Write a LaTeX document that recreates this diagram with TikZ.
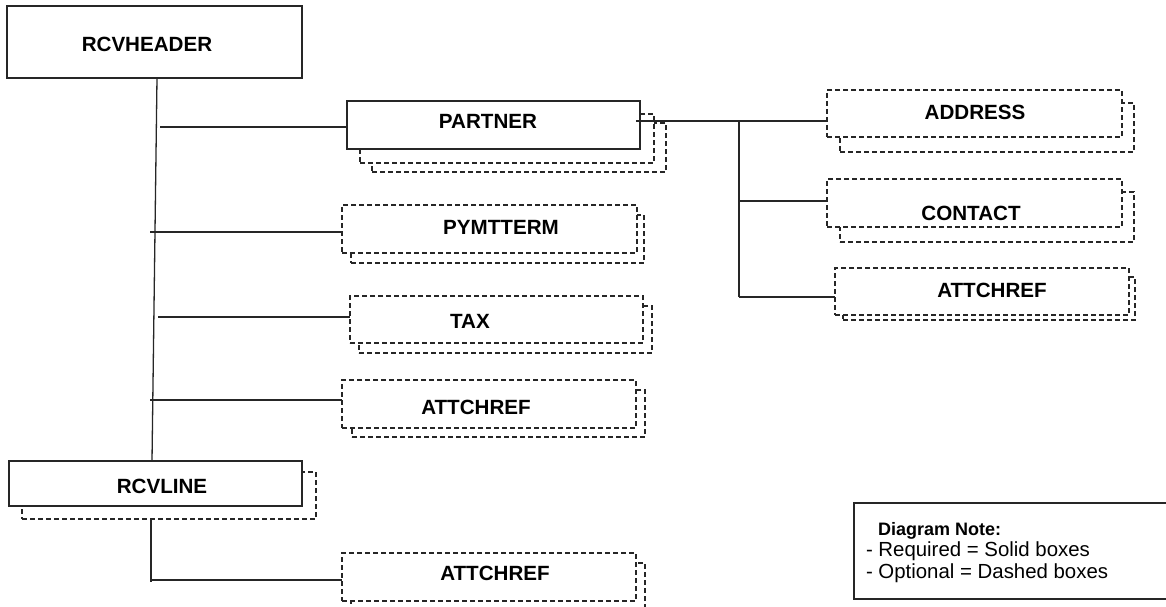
\documentclass[tikz,border=0pt]{standalone}
\usepackage{fontspec}
\setmainfont{Liberation Sans}
\usetikzlibrary{calc}
\begin{document}
\begin{tikzpicture}[x=1pt,y=-1pt,
  every node/.style={inner sep=0pt,outer sep=0pt},
  reqbox/.style={draw=black!85,line width=1.3pt,fill=white,anchor=north west},
  optbox/.style={draw=black!85,line width=1.2pt,dash pattern=on 5pt off 3pt,fill=white,anchor=north west},
  lbl/.style={font=\fontsize{20.6}{24}\selectfont\bfseries},
  conn/.style={draw=black!85,line width=1.3pt}]
\useasboundingbox (0,0) rectangle (1166,607);
\clip (0,0) rectangle (1166,607);

% RCVHEADER
\node[reqbox,minimum width=295pt,minimum height=72pt] (hdr) at (7,6) {};
\node[lbl] (hdrlbl) at (147,44) {RCVHEADER};

% PARTNER
\node[optbox,minimum width=294pt,minimum height=49pt] (partnerS2) at (372,123) {};
\node[optbox,minimum width=294pt,minimum height=49pt] (partnerS1) at (360,114) {};
\node[reqbox,minimum width=293pt,minimum height=48pt] (partner) at (347,101) {};
\node[lbl] (partnerlbl) at (488,121) {PARTNER};

% PYMTTERM
\node[optbox,minimum width=293pt,minimum height=48pt] (pymtS) at (351,215) {};
\node[optbox,minimum width=295pt,minimum height=48pt] (pymt) at (342,205) {};
\node[lbl] (pymtlbl) at (501,227) {PYMTTERM};

% TAX
\node[optbox,minimum width=293pt,minimum height=47pt] (taxS) at (359,306) {};
\node[optbox,minimum width=293pt,minimum height=47pt] (tax) at (350,296) {};
\node[lbl] (taxlbl) at (470,321) {TAX};

% ATTCHREF (header)
\node[optbox,minimum width=293pt,minimum height=47pt] (attmidS) at (352,390) {};
\node[optbox,minimum width=294pt,minimum height=48pt] (attmid) at (342,380) {};
\node[lbl] (attmidlbl) at (476,407) {ATTCHREF};

% RCVLINE
\node[optbox,minimum width=294pt,minimum height=47pt] (rcvlineS) at (22,472) {};
\node[reqbox,minimum width=293pt,minimum height=45pt] (rcvline) at (9,461) {};
\node[lbl] (rcvlinelbl) at (162,486) {RCVLINE};

% ATTCHREF (line)
\node[optbox,minimum width=294pt,minimum height=48pt] (attbotS) at (351,563) {};
\node[optbox,minimum width=294pt,minimum height=48pt] (attbot) at (342,553) {};
\node[lbl] (attbotlbl) at (495,573) {ATTCHREF};

% ADDRESS
\node[optbox,minimum width=294pt,minimum height=49pt] (addrS) at (840,103) {};
\node[optbox,minimum width=295pt,minimum height=47pt] (addr) at (827,90) {};
\node[lbl] (addrlbl) at (975,112) {ADDRESS};

% CONTACT
\node[optbox,minimum width=294pt,minimum height=50pt] (contS) at (840,192) {};
\node[optbox,minimum width=295pt,minimum height=48pt] (cont) at (827,179) {};
\node[lbl] (contlbl) at (971,213) {CONTACT};

% ATTCHREF (partner)
\node[optbox,minimum width=292pt,minimum height=43pt] (attrS) at (843,277) {};
\node[optbox,minimum width=294pt,minimum height=47pt] (attr) at (835,268) {};
\node[lbl] (attrlbl) at (992,290) {ATTCHREF};

% Legend
\node[draw=black!85,line width=1.3pt,anchor=north west,minimum width=330pt,minimum height=96pt] (legbox) at (854,503) {};
\node[anchor=north west,align=left,font=\fontsize{20.4}{21.5}\selectfont] (legtxt) at (866,522)
  {\hspace*{12pt}{\fontsize{18}{21.5}\selectfont\bfseries Diagram Note:}\\- Required = Solid boxes\\- Optional = Dashed boxes};

% connectors: main trunk
\coordinate (mtop) at ($(hdr.south west)+(150,0)$);
\coordinate (mbot) at ($(rcvline.north west)+(143,0)$);
\draw[conn] (mtop) -- (mbot);
\coordinate (b1) at (160,127);
\coordinate (b2) at (150,232);
\coordinate (b3) at (158,317);
\coordinate (b4) at (150,400);
\draw[conn] (b1) -- (b1 -| partner.west);
\draw[conn] (b2) -- (b2 -| pymt.west);
\draw[conn] (b3) -- (b3 -| tax.west);
\draw[conn] (b4) -- (b4 -| attmid.west);

% partner children
\coordinate (pr) at (636,121);
\coordinate (jt) at (739,121);
\coordinate (jm) at (739,201);
\coordinate (jb) at (739,297);
\draw[conn] (pr) -- (pr -| addr.west);
\draw[conn] (jt) -- (jb);
\draw[conn] (jm) -- (jm -| cont.west);
\draw[conn] (jb) -- (jb -| attr.west);

% rcvline child
\coordinate (v1) at (rcvlineS.south -| 151,0);
\coordinate (v2) at (151,582);
\coordinate (h1) at (150,580);
\draw[conn] (v1) -- (v2);
\draw[conn] (h1) -- (h1 -| attbot.west);
\end{tikzpicture}
\end{document}
